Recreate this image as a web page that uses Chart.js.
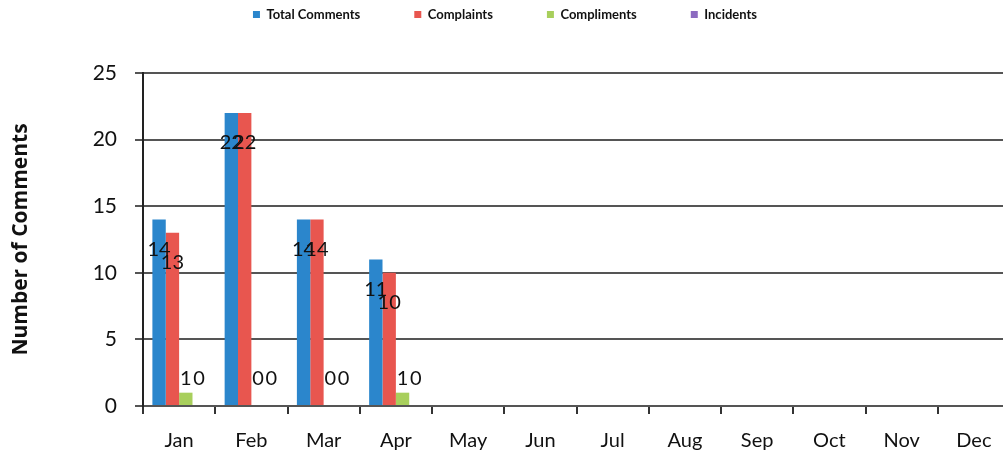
<!DOCTYPE html>
<html>
<head>
<meta charset="utf-8">
<script src="https://cdn.jsdelivr.net/npm/chart.js@4"></script>
<style>
  html, body { margin: 0; padding: 0; background: #fff; overflow: hidden; }
  #wrap { width: 1012px; height: 459px; }
</style>
</head>
<body>
<div id="wrap"><canvas id="myChart"></canvas></div>
<script>
   const months = ['Jan', 'Feb', 'Mar', 'Apr', 'May', 'Jun', 'Jul', 'Aug', 'Sep', 'Oct', 'Nov', 'Dec'];
   const totalComments = [14, 22, 14, 11, null, null, null, null, null, null, null, null];
   const complaints = [13, 22, 14, 10, null, null, null, null, null, null, null, null];
   const compliments = [1, 0, 0, 1, null, null, null, null, null, null, null, null];
   const incidents = [0, 0, 0, 0, null, null, null, null, null, null, null, null];
   const yTicks = [0, 5, 10, 15, 20, 25];

   const font = 'Lato';
   const legendGap = 54;

   //    value labels drawn next to the bars, like the excel ones
   const barLabels = {
       id: 'barLabels',
       afterDatasetsDraw(chart) {
           const ctx = chart.ctx;
           const zero = chart.scales.y.getPixelForValue(0);
           ctx.save();
           ctx.font = '20px ' + font;
           ctx.fillStyle = '#111';
           ctx.textAlign = 'center';
           ctx.textBaseline = 'middle';
           chart.data.datasets.forEach((ds, i) => {
               const meta = chart.getDatasetMeta(i);
               meta.data.forEach((bar, j) => {
                   const v = ds.data[j];
                   if (v === null || v === undefined) return;
                   const y = Math.min(bar.y + 30, zero - 27);
                   ctx.fillText(String(v), bar.x, y);
               });
           });
           ctx.restore();
       }
   };

   //    legend padding is also used vertically, so pull the box up and fix its height
   const legendHeight = {
       id: 'legendHeight',
       beforeInit(chart) {
           const fit = chart.legend.fit;
           chart.legend.fit = function () {
               fit.bind(chart.legend)();
               this.height = 73 + legendGap - 8;
           };
       }
   };

   const chartData = {
       labels: months,
       datasets: [
           { label: 'Total Comments', data: totalComments, backgroundColor: '#2b86cc' },
           { label: 'Complaints', data: complaints, backgroundColor: '#e8564f' },
           { label: 'Compliments', data: compliments, backgroundColor: '#a8cf5c' },
           { label: 'Incidents', data: incidents, backgroundColor: '#8c6bc0' }
       ]
   };

   const config = {
       type: 'bar',
       data: chartData,
       plugins: [barLabels, legendHeight],
       options: {
           responsive: true,
           maintainAspectRatio: false,
           animation: false,
           datasets: {
               bar: {
                   categoryPercentage: 0.74,
                   barPercentage: 1
               }
           },
           layout: {
               padding: { left: 0, right: 2, top: 8 - legendGap, bottom: 0 }
           },
           plugins: {
               legend: {
                   display: true,
                   position: 'top',
                   labels: {
                       boxWidth: 7,
                       boxHeight: 7,
                       padding: legendGap,
                       color: '#111',
                       font: { family: font, size: 13, weight: 'bold' }
                   }
               },
               tooltip: { enabled: false }
           },
           scales: {
               x: {
                   grid: {
                       drawOnChartArea: false,
                       drawTicks: true,
                       tickLength: 8,
                       color: '#333',
                       lineWidth: 2
                   },
                   border: { color: '#555', width: 2 },
                   ticks: {
                       color: '#111',
                       padding: 15,
                       maxRotation: 0,
                       font: { family: font, size: 20 }
                   },
                   afterFit: s => { s.height = 53; }
               },
               y: {
                   min: 0,
                   max: 25,
                   afterBuildTicks: s => { s.ticks = yTicks.map(v => ({ value: v })); },
                   grid: {
                       color: '#555',
                       lineWidth: 2,
                       tickLength: 8
                   },
                   border: { color: '#222', width: 2 },
                   ticks: {
                       color: '#111',
                       padding: 18,
                       font: { family: font, size: 21 }
                   },
                   title: {
                       display: true,
                       text: 'Number of Comments',
                       color: '#111',
                       padding: { top: 8, bottom: 0 },
                       font: { family: 'Open Sans', size: 21, weight: 'bold' }
                   },
                   afterFit: s => { s.width = 143; }
               }
           }
       }
   };

   new Chart(
       document.getElementById('myChart'),
       config
   );
</script>
</body>
</html>
